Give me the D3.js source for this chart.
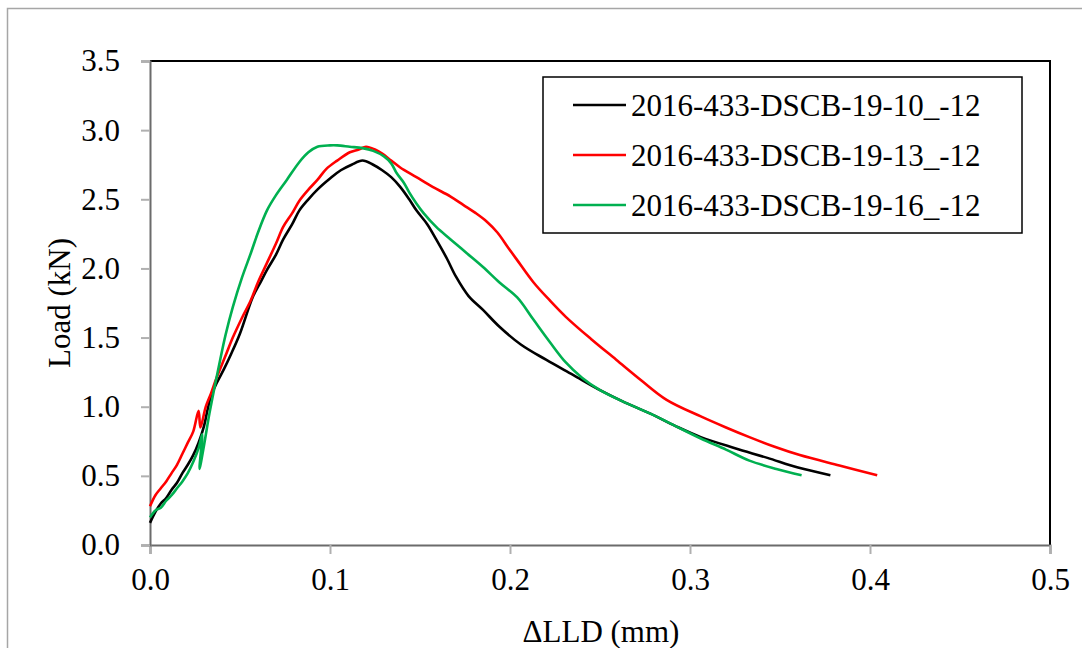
<!DOCTYPE html>
<html><head><meta charset="utf-8">
<script src="https://cdn.jsdelivr.net/npm/d3@7"></script>
<style>body{margin:0;background:#fff}svg{display:block}text{font-family:"Liberation Serif","Times New Roman",serif;fill:#000}</style>
</head><body>
<script>
const seriesNames = ["2016-433-DSCB-19-10_-12","2016-433-DSCB-19-13_-12","2016-433-DSCB-19-16_-12"];
const seriesColors = ["#000000","#ff0000","#00b050"];
const xTicks = [0,0.1,0.2,0.3,0.4,0.5];
const yTicks = [0,0.5,1,1.5,2,2.5,3,3.5];

const blackX = [0,0.003,0.006,0.009,0.012,0.015,0.018,0.021,0.024,0.027,0.030,0.032,0.034,0.037,0.041,0.045,0.050,0.057,0.061,0.065,0.070,0.074,0.079,0.083,0.088,0.093,0.100,0.106,0.112,0.118,0.124,0.129,0.134,0.139,0.144,0.148,0.154,0.159,0.165,0.170,0.177,0.185,0.194,0.206,0.220,0.235,0.250,0.264,0.278,0.292,0.306,0.325,0.343,0.360,0.378];
const blackY = [0.16,0.24,0.30,0.34,0.40,0.45,0.52,0.58,0.65,0.74,0.86,0.98,1.08,1.17,1.27,1.38,1.53,1.79,1.89,1.99,2.10,2.21,2.32,2.42,2.50,2.57,2.65,2.71,2.75,2.78,2.75,2.71,2.66,2.59,2.50,2.42,2.32,2.21,2.07,1.94,1.80,1.70,1.58,1.45,1.34,1.23,1.12,1.03,0.95,0.86,0.78,0.70,0.63,0.56,0.505];

const redX = [0,0.003,0.006,0.009,0.012,0.015,0.018,0.021,0.024,0.027,0.028,0.031,0.034,0.037,0.042,0.046,0.051,0.056,0.060,0.065,0.070,0.074,0.079,0.083,0.088,0.093,0.098,0.104,0.111,0.116,0.120,0.125,0.129,0.134,0.139,0.148,0.157,0.167,0.174,0.181,0.187,0.193,0.199,0.204,0.213,0.222,0.231,0.245,0.259,0.273,0.287,0.306,0.320,0.333,0.347,0.361,0.383,0.404];
const redY = [0.28,0.36,0.41,0.46,0.52,0.58,0.66,0.74,0.82,0.97,0.85,1.00,1.10,1.21,1.37,1.50,1.64,1.77,1.90,2.04,2.18,2.30,2.40,2.49,2.57,2.64,2.72,2.78,2.84,2.86,2.88,2.86,2.83,2.78,2.73,2.66,2.59,2.52,2.46,2.40,2.34,2.26,2.15,2.06,1.90,1.77,1.65,1.49,1.34,1.19,1.05,0.93,0.85,0.78,0.71,0.65,0.575,0.505];

const greenX = [0,0.003,0.006,0.009,0.012,0.015,0.018,0.021,0.024,0.027,0.029,0.0275,0.030,0.033,0.036,0.039,0.042,0.046,0.051,0.056,0.060,0.065,0.070,0.076,0.083,0.088,0.093,0.100,0.104,0.111,0.118,0.124,0.130,0.134,0.137,0.141,0.144,0.148,0.152,0.159,0.167,0.176,0.185,0.194,0.204,0.213,0.222,0.231,0.240,0.250,0.264,0.278,0.292,0.306,0.320,0.333,0.348,0.362];
const greenY = [0.20,0.25,0.27,0.32,0.36,0.41,0.46,0.52,0.60,0.70,0.80,0.55,0.72,0.95,1.15,1.34,1.52,1.72,1.93,2.11,2.26,2.42,2.53,2.64,2.77,2.84,2.88,2.89,2.89,2.88,2.87,2.85,2.81,2.76,2.69,2.62,2.55,2.47,2.40,2.30,2.21,2.11,2.01,1.90,1.79,1.63,1.47,1.32,1.21,1.12,1.03,0.95,0.86,0.77,0.69,0.61,0.55,0.505];

const W = 1082, H = 648;
const L = 150, R = 1050, T = 61, B = 545;
const FS = 31;

const svg = d3.select("body").append("svg").attr("width", W).attr("height", H);
svg.append("rect").attr("x",7.5).attr("y",8.5).attr("width",1200).attr("height",700)
  .attr("fill","#fff").attr("stroke","#a6a6a6").attr("stroke-width",1.5);

const x = d3.scaleLinear().domain([0,0.5]).range([L,R]);
const y = d3.scaleLinear().domain([0,3.5]).range([B,T]);

svg.append("path").attr("d",`M${L},${T}H${R}V${B}`).attr("fill","none").attr("stroke","#000").attr("stroke-width",2);

const xAxis = svg.append("g").attr("transform",`translate(0,${B})`)
  .call(d3.axisBottom(x).tickValues(xTicks).tickFormat(d3.format(".1f")).tickSize(9).tickPadding(14));
const yAxis = svg.append("g").attr("transform",`translate(${L},0)`)
  .call(d3.axisLeft(y).tickValues(yTicks).tickFormat(d3.format(".1f")).tickSize(9).tickPadding(21));
[xAxis,yAxis].forEach(g=>{
  g.select(".domain").attr("stroke","#6b6b6b").attr("stroke-width",2);
  g.selectAll(".tick line").attr("stroke","#b0b0b0").attr("stroke-width",2);
  g.selectAll(".tick text").attr("font-size",FS).attr("font-family","Liberation Serif");
});
xAxis.selectAll(".tick text").attr("dy","0.71em");

const line = d3.line().x(d=>x(d[0])).y(d=>y(d[1])).curve(d3.curveCatmullRom.alpha(0.5));
const data = [d3.zip(blackX,blackY), d3.zip(redX,redY), d3.zip(greenX,greenY)];
svg.append("g").selectAll("path").data(data).join("path")
  .attr("d",line).attr("fill","none")
  .attr("stroke",(d,i)=>seriesColors[i]).attr("stroke-width",2.6)
  .attr("stroke-linejoin","round");

const lg = svg.append("g");
lg.append("rect").attr("x",543).attr("y",77).attr("width",479).attr("height",156)
  .attr("fill","#fff").attr("stroke","#000").attr("stroke-width",1.5);
seriesNames.forEach((n,i)=>{
  const cy = 105 + i*50;
  lg.append("line").attr("x1",573).attr("x2",626).attr("y1",cy).attr("y2",cy)
    .attr("stroke",seriesColors[i]).attr("stroke-width",2.6);
  lg.append("text").attr("x",631).attr("y",cy).attr("dy","0.35em").attr("font-size",FS).text(n);
});

svg.append("text").attr("x",601).attr("y",642).attr("text-anchor","middle").attr("font-size",FS).text("ΔLLD (mm)");
svg.append("text").attr("transform",`translate(70,${(T+B)/2}) rotate(-90)`).attr("text-anchor","middle").attr("font-size",FS).text("Load (kN)");
</script>
</body></html>
